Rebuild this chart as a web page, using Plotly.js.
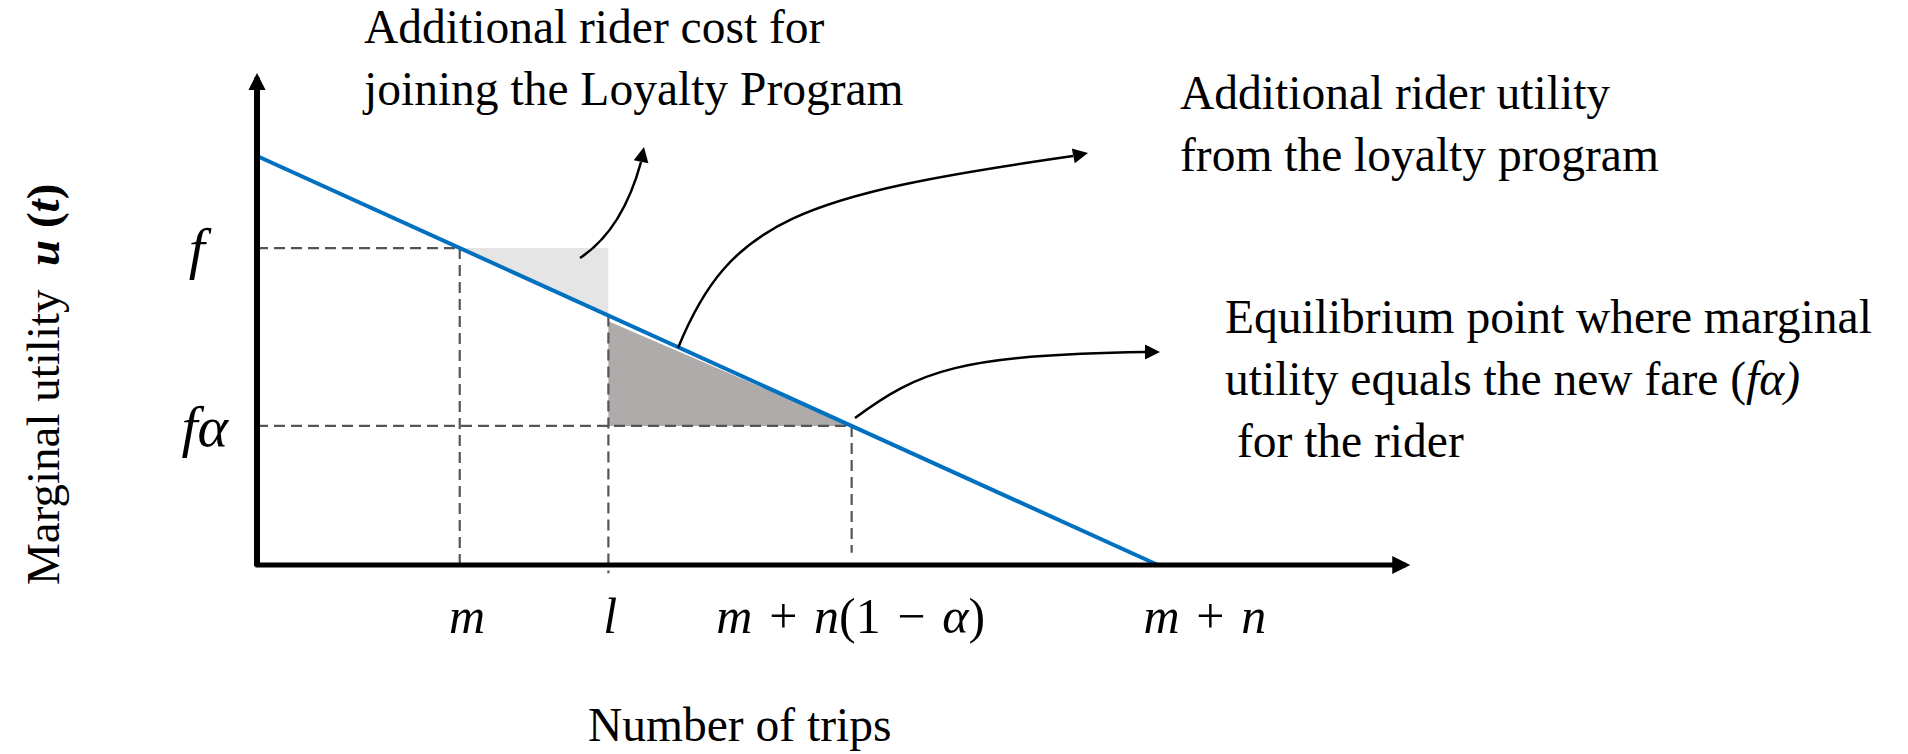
<!DOCTYPE html>
<html>
<head>
<meta charset="utf-8">
<script src="https://cdn.plot.ly/plotly-3.0.1.min.js"></script>
<style>
html,body{margin:0;padding:0;background:#ffffff;}
#chart{width:1908px;height:754px;}
</style>
</head>
<body>
<div id="chart"></div>
<script>
// ---------------- values (data units) ----------------
// marginal-utility (demand) line u(t): from u0 at t = 0 down to 0 at t = m + n
const demandTrips   = [0, 10];
const demandUtility = [10, 0];

// key points on the trips axis
const pointNames = ['m', 'l', 'm+n(1-α)', 'm+n'];
const pointTrips = [2.25, 3.9, 6.6, 10];

// fare levels on the utility axis
const fareNames  = ['f', 'fα'];
const fareLevels = [7.75, 3.4];

// tick labels (x labels sit where the picture prints them)
const SP = '\u2004';
const xTickLabels = ['<i>m</i>', '<i>l</i>',
  '<i>m</i>' + SP + '+' + SP + '<i>n</i>(1' + SP + '−' + SP + '<i>α</i>)',
  '<i>m</i>' + SP + '+' + SP + '<i>n</i>'];
const xTickPos    = [2.33, 3.92, 6.59, 10.52];
const yTickLabels = ['<i>f</i>\u2009\u2009', '<i>fα</i>'];

// axis ends (arrow tips)
const xAxisEnd = 12.8;
const yAxisEnd = 12.03;

// ---------------- helpers ----------------
const [mT, lT, eqT, mnT] = pointTrips;
const [fare, fareAlpha] = fareLevels;
function uAt(t) {
  const t0 = demandTrips[0], t1 = demandTrips[1];
  const u0 = demandUtility[0], u1 = demandUtility[1];
  return u0 + (u1 - u0) * (t - t0) / (t1 - t0);
}
const uL = uAt(lT);

// figure geometry (pixel placement of the data origin)
const W = 1908, H = 754;
const ML = 245, MB = 176;
const X0PX = 257, XPX = 90.1;   // data x = 0 at pixel 257, 90.1 px per unit
const Y0PX = 565, YPX = 40.9;   // data y = 0 at pixel 565, 40.9 px per unit
const xRange = [(ML - X0PX) / XPX, (W - X0PX) / XPX];
const yRange = [(Y0PX - (H - MB)) / YPX, Y0PX / YPX];

const SERIF = '"Liberation Serif", "Times New Roman", Times, serif';
const TXT = 47.5;
const DASH = {color: '#555555', width: 2.2, dash: '11px,6px'};

// ---------------- traces ----------------
const traces = [
  // light grey: extra cost of joining (between f and the demand line, m..l)
  {x: [mT, lT, lT, mT], y: [fare, fare, uL, fare], mode: 'lines', fill: 'toself',
   fillcolor: '#e5e5e5', line: {width: 0, color: 'rgba(0,0,0,0)'}, hoverinfo: 'skip'},
  // dark grey: extra utility from the programme (l..m+n(1-α), above fα)
  {x: [lT, lT, eqT, lT], y: [uL - 0.14, fareAlpha, fareAlpha, uL - 0.14], mode: 'lines', fill: 'toself',
   fillcolor: '#aeabaa', line: {width: 0, color: 'rgba(0,0,0,0)'}, hoverinfo: 'skip'},
  // dashed guides
  {x: [0, mT], y: [fare, fare], mode: 'lines', line: DASH, hoverinfo: 'skip'},
  {x: [mT, mT], y: [fare, 0], mode: 'lines', line: DASH, hoverinfo: 'skip'},
  {x: [0, eqT], y: [fareAlpha, fareAlpha], mode: 'lines', line: DASH, hoverinfo: 'skip'},
  {x: [lT, lT], y: [uL, -0.2], mode: 'lines', line: DASH, hoverinfo: 'skip'},
  {x: [eqT, eqT], y: [fareAlpha, 0.3], mode: 'lines', line: DASH, hoverinfo: 'skip'},
  // marginal utility line
  {x: demandTrips, y: demandUtility, mode: 'lines', line: {color: '#0070c0', width: 4}, hoverinfo: 'skip'}
];

// ---------------- callout curves (data units) ----------------
function bez(p) {
  return 'M' + p[0][0] + ',' + p[0][1] + ' C' + p[1][0] + ',' + p[1][1] + ' ' +
         p[2][0] + ',' + p[2][1] + ' ' + p[3][0] + ',' + p[3][1];
}
const costCurve    = [[3.585, 7.506], [3.973, 8.068], [4.162, 9.046], [4.262, 9.853]];
const utilityCurve = [[4.673, 5.306], [5.25, 8.435], [6.027, 9.046], [9.057, 10.0]];
const equilCurve   = [[6.637, 3.594], [7.358, 4.768], [7.802, 5.134], [9.856, 5.208]];
const shapes = [costCurve, utilityCurve, equilCurve].map(c => ({
  type: 'path', xref: 'x', yref: 'y', path: bez(c),
  line: {color: '#000000', width: 2.5}
}));

function arrowHead(x, y, ax, ay) {
  return {x: x, y: y, xref: 'x', yref: 'y', ax: ax, ay: ay, text: '', showarrow: true,
          arrowhead: 2, arrowsize: 1.2, arrowwidth: 2.5, arrowcolor: '#000000', font: {size: 1}};
}
function label(x, y, text) {
  return {x: x, y: y, xref: 'x', yref: 'y', xanchor: 'left', yanchor: 'middle', align: 'left',
          showarrow: false, borderpad: 0, font: {family: SERIF, size: TXT, color: '#000000'}, text: text};
}

const annotations = [
  // axes with arrows
  {x: xAxisEnd, y: 0, ax: -0.035, ay: 0, xref: 'x', yref: 'y', axref: 'x', ayref: 'y',
   text: '', showarrow: true, arrowhead: 2, arrowsize: 0.72, arrowwidth: 5, arrowcolor: '#000000', font: {size: 1}},
  {x: 0, y: yAxisEnd, ax: 0, ay: -0.07, xref: 'x', yref: 'y', axref: 'x', ayref: 'y',
   text: '', showarrow: true, arrowhead: 2, arrowsize: 0.57, arrowwidth: 6, arrowcolor: '#000000', font: {size: 1}},
  // callout arrow heads
  arrowHead(4.295, 10.22, -3, 15),
  arrowHead(9.223, 10.073, -15, 3),
  arrowHead(10.022, 5.208, -15, 0),
  // callout texts
  label(1.15, 12.40, 'Additional rider cost for<br>joining the Loyalty Program'),
  label(10.23, 10.78, 'Additional rider utility<br>from the loyalty program'),
  label(10.73, 4.548, 'Equilibrium point where marginal<br>utility equals the new fare (<i>fα)</i><br>\u00a0for the rider'),
  // axis titles
  {x: 5.35, y: -0.3015, xref: 'x', yref: 'paper', xanchor: 'center', yanchor: 'bottom',
   showarrow: false, borderpad: 0, font: {family: SERIF, size: TXT, color: '#000000'}, text: 'Number of trips'},
  {x: -0.1215, y: 4.425, xref: 'paper', yref: 'y', xanchor: 'center', yanchor: 'middle', textangle: -90,
   showarrow: false, font: {family: SERIF, size: 47, color: '#000000'},
   text: 'Marginal utility\u00a0 <b><i>u</i> (<i>t</i>)</b>'}
];

const layout = {
  width: W, height: H,
  margin: {l: ML, r: 0, t: 0, b: MB, pad: 0},
  paper_bgcolor: '#ffffff', plot_bgcolor: '#ffffff',
  showlegend: false,
  xaxis: {range: xRange, showgrid: false, zeroline: false, showline: false, ticks: '',
          tickvals: xTickPos, ticktext: xTickLabels, ticklabelstandoff: 4,
          tickfont: {family: SERIF, size: 50, color: '#000000'}, fixedrange: true},
  yaxis: {range: yRange, showgrid: false, zeroline: false, showline: false, ticks: '',
          tickvals: fareLevels, ticktext: yTickLabels, ticklabelstandoff: 16,
          tickfont: {family: SERIF, size: 58, color: '#000000'}, fixedrange: true},
  shapes: shapes,
  annotations: annotations
};

Plotly.newPlot('chart', traces, layout, {displayModeBar: false, staticPlot: true});
</script>
</body>
</html>
